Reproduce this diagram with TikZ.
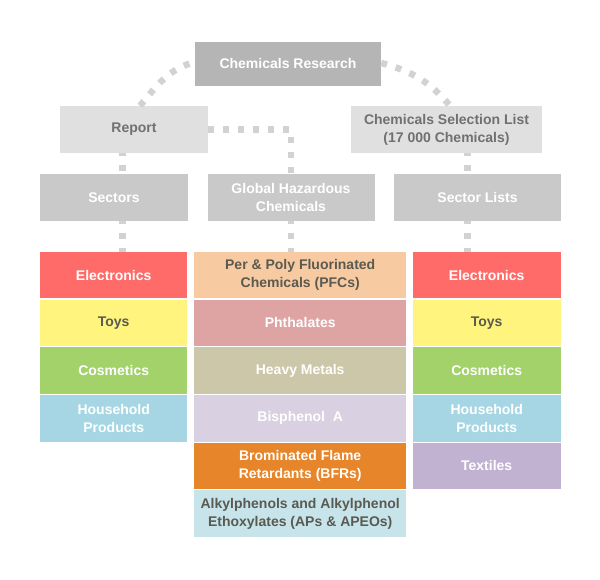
\documentclass[tikz,border=0pt]{standalone}
\usepackage{fontspec}
\setmainfont{Liberation Sans}
\definecolor{darkbox}{HTML}{B5B5B5}
\definecolor{midbox}{HTML}{C9C9C9}
\definecolor{lightbox}{HTML}{E0E0E0}
\definecolor{dotgray}{HTML}{D2D2D2}
\definecolor{greytext}{HTML}{707070}
\definecolor{darktext}{HTML}{5A5A50}
\definecolor{elec}{HTML}{FF6B68}
\definecolor{toys}{HTML}{FFF57E}
\definecolor{cosm}{HTML}{A3D26B}
\definecolor{house}{HTML}{A6D6E3}
\definecolor{textl}{HTML}{C0B2D0}
\definecolor{pfc}{HTML}{F8CAA2}
\definecolor{phth}{HTML}{DEA4A4}
\definecolor{heavy}{HTML}{CDC7A9}
\definecolor{bisph}{HTML}{D9D0E2}
\definecolor{bfr}{HTML}{E6852A}
\definecolor{apeo}{HTML}{C7E4EB}
\tikzset{
  box/.style={inner sep=0pt, align=center, text=white,
    font=\fontsize{14}{18}\selectfont\bfseries},
  cell/.style={box, minimum height=46.5pt},
  dotline/.style={draw=dotgray, line width=6.5pt, dash pattern=on 6pt off 9pt}
}
\begin{document}
\begin{tikzpicture}[x=1pt,y=1pt]
      \useasboundingbox (0,0) rectangle (600,580);
      \node[box, fill=darkbox, minimum width=186pt, minimum height=44pt] (research) at (288,516) {Chemicals Research};
      \node[box, fill=lightbox, text=greytext, minimum width=148pt, minimum height=47pt] (report) at (134,450.5) {Report};
      \node[box, fill=lightbox, text=greytext, minimum width=191pt, minimum height=47pt] (selection) at (446.5,450.5) {Chemicals Selection List\\(17 000 Chemicals)};
      \node[box, fill=midbox, minimum width=148pt, minimum height=47pt] (sectors) at (114,382.5) {Sectors};
      \node[box, fill=midbox, minimum width=167pt, minimum height=47pt] (global) at (291,382.5) {Global Hazardous\\Chemicals};
      \node[box, fill=midbox, minimum width=167pt, minimum height=47pt] (seclists) at (477.5,382.5) {Sector Lists};
      \begin{scope}[every node/.style={cell, minimum width=147.5pt}]
        \node[fill=elec] (L0) at (113.7,304.8) {Electronics};
        \node[fill=toys, text=darktext] (L1) at (113.7,257.1) {Toys};
        \node[fill=cosm] (L2) at (113.7,209.4) {Cosmetics};
        \node[fill=house] (L3) at (113.7,161.7) {Household\\Products};
      \end{scope}
      \begin{scope}[every node/.style={cell, minimum width=211.7pt}]
        \node[fill=pfc, text=darktext] (M0) at (300.2,304.8) {Per \& Poly Fluorinated\\Chemicals (PFCs)};
        \node[fill=phth] (M1) at (300.2,257.1) {Phthalates};
        \node[fill=heavy] (M2) at (300.2,209.4) {Heavy Metals};
        \node[fill=bisph] (M3) at (300.2,161.7) {Bisphenol~ A};
        \node[fill=bfr] (M4) at (300.2,114.0) {Brominated Flame\\Retardants (BFRs)};
        \node[fill=apeo, text=darktext] (M5) at (300.2,66.3) {Alkylphenols and Alkylphenol\\Ethoxylates (APs \& APEOs)};
      \end{scope}
      \begin{scope}[every node/.style={cell, minimum width=148pt}]
        \node[fill=elec] (R0) at (486.7,304.8) {Electronics};
        \node[fill=toys, text=darktext] (R1) at (486.7,257.1) {Toys};
        \node[fill=cosm] (R2) at (486.7,209.4) {Cosmetics};
        \node[fill=house] (R3) at (486.7,161.7) {Household\\Products};
        \node[fill=textl] (R4) at (486.7,114.0) {Textiles};
      \end{scope}
      \coordinate (lv) at (122.5,0);
      \coordinate (rv) at (467.5,0);
      \begin{scope}[dotline]
        \draw ([xshift=6pt]report.north) to[out=50,in=195] ([yshift=2pt]research.west);
        \draw ([yshift=1pt]research.east) to[out=-15,in=130] ([xshift=3.5pt]selection.north);
        \draw (report.east) -| (global.north);
        \draw[dash phase=3pt] (report.south -| lv) -- (sectors.north -| lv);
        \draw[dash phase=3pt] (sectors.south -| lv) -- (L0.north -| lv);
        \draw[dash phase=3pt] (global.south) -- (global.south |- M0.north);
        \draw[dash phase=3pt] (selection.south -| rv) -- (seclists.north -| rv);
        \draw[dash phase=3pt] (seclists.south -| rv) -- (R0.north -| rv);
      \end{scope}
    \end{tikzpicture}
\end{document}
